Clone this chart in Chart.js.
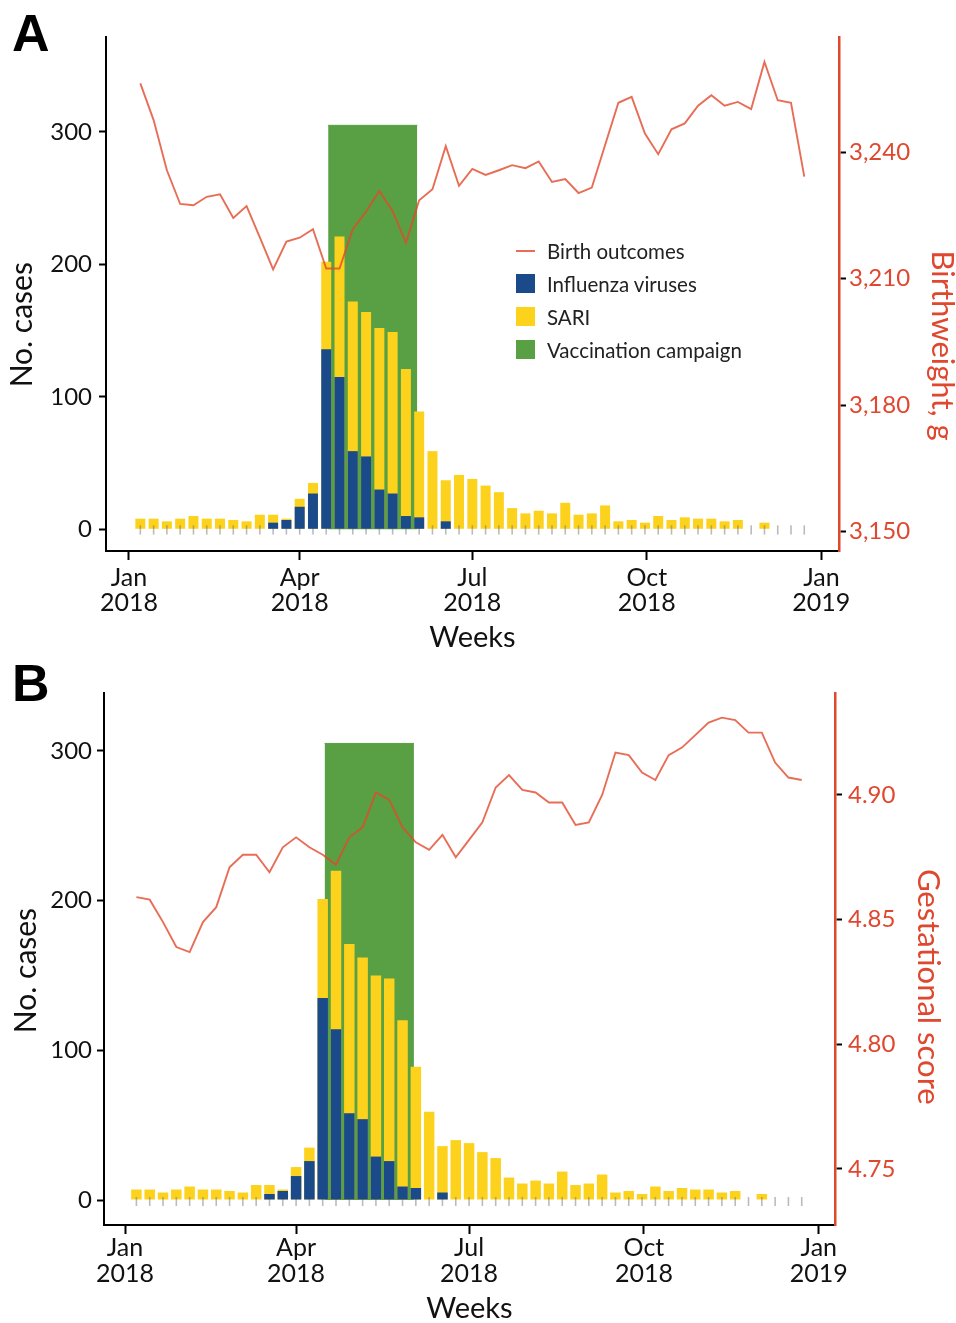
<!DOCTYPE html>
<html>
<head>
<meta charset="utf-8">
<script src="https://cdn.jsdelivr.net/npm/chart.js@4.4.1/dist/chart.umd.min.js"></script>
<style>
    body { margin: 0; background: #fff; }
    #pagina { position: relative; width: 956px; height: 1323px; overflow: hidden; }
    #grafico1 { position: absolute; left: 0; top: 0; }
    #grafico2 { position: absolute; left: 0; top: 660px; }
    .letra { position: absolute; left: 12px; font: bold 52px "Liberation Sans", Arial, sans-serif; line-height: 52px; color: #000; }
    #legenda { position: absolute; left: 516px; top: 234px; font: 20.5px Lato, sans-serif; color: #222; }
    #legenda .item { height: 33px; display: flex; align-items: center; }
    #legenda .icone { width: 19px; height: 19px; margin-right: 12px; }
</style>
</head>
<body>
<div id="pagina">
    <canvas id="grafico1" width="956" height="660"></canvas>
    <canvas id="grafico2" width="956" height="663"></canvas>
    <div class="letra" style="top:7px">A</div>
    <div class="letra" style="top:657px">B</div>
    <div id="legenda"></div>
</div>
<script>
// semanas epidemiologicas (inicio de cada semana)
const semanas = ['2018-01-07','2018-01-14','2018-01-21','2018-01-28','2018-02-04','2018-02-11','2018-02-18','2018-02-25',
    '2018-03-04','2018-03-11','2018-03-18','2018-03-25','2018-04-01','2018-04-08','2018-04-15','2018-04-22','2018-04-29',
    '2018-05-06','2018-05-13','2018-05-20','2018-05-27','2018-06-03','2018-06-10','2018-06-17','2018-06-24','2018-07-01',
    '2018-07-08','2018-07-15','2018-07-22','2018-07-29','2018-08-05','2018-08-12','2018-08-19','2018-08-26','2018-09-02',
    '2018-09-09','2018-09-16','2018-09-23','2018-09-30','2018-10-07','2018-10-14','2018-10-21','2018-10-28','2018-11-04',
    '2018-11-11','2018-11-18','2018-11-25','2018-12-02','2018-12-09','2018-12-16','2018-12-23'];

// painel A
const sariA = [8,8,6,8,10,8,8,7,6,11,11,8,23,35,202,221,172,164,152,149,121,89,59,37,41,38,33,28,16,12,14,12,20,11,12,18,6,7,5,10,7,9,8,8,6,7,0,5,0,0,0];
const gripeA = [0,0,0,0,0,0,0,0,0,0,5,7,17,27,136,115,59,55,30,27,10,9,0,6,0,0,0,0,0,0,0,0,0,0,0,0,0,0,0,0,0,0,0,0,0,0,0,0,0,0,0];
const pesoNascer = [3256.3,3247.6,3235.7,3227.7,3227.4,3229.4,3230.0,3224.4,3227.2,3219.8,3212.2,3218.8,3219.7,3221.7,3212.4,3212.4,
    3221.7,3225.9,3230.8,3226.0,3218.5,3228.6,3231.2,3241.4,3232.0,3236.0,3234.6,3235.7,3236.9,3236.2,3237.8,3232.9,3233.6,
    3230.3,3231.6,3241.7,3251.7,3253.1,3244.4,3239.5,3245.4,3246.8,3251.0,3253.5,3251.0,3251.9,3250.2,3261.4,3252.3,3251.7,3234.2];

// painel B
const sariB = [7,7,5,7,9,7,7,6,5,10,10,7,22,35,201,220,171,162,150,148,120,89,59,36,40,38,32,28,15,11,13,11,19,10,11,17,5,6,4,9,6,8,7,7,5,6,0,4,0,0,0];
const gripeB = [0,0,0,0,0,0,0,0,0,0,4,6,16,26,135,114,58,54,29,26,9,8,0,5,0,0,0,0,0,0,0,0,0,0,0,0,0,0,0,0,0,0,0,0,0,0,0,0,0,0,0];
const escoreGest = [4.859,4.858,4.849,4.839,4.837,4.849,4.855,4.871,4.876,4.876,4.869,4.879,4.883,4.879,4.876,4.872,4.883,4.887,
    4.901,4.898,4.887,4.881,4.878,4.884,4.875,4.882,4.889,4.903,4.908,4.902,4.901,4.897,4.897,4.888,4.889,4.900,4.917,4.916,
    4.909,4.906,4.916,4.919,4.924,4.929,4.931,4.930,4.925,4.925,4.913,4.907,4.906];

// campanha de vacinacao
const campanha = ['2018-04-16', '2018-06-02'];
const topoCampanha = 305;

// eixos
const datasTicks = ['2018-01-01', '2018-04-01', '2018-07-01', '2018-10-01', '2019-01-01'];
const rotulosTicks = [['Jan', '2018'], ['Apr', '2018'], ['Jul', '2018'], ['Oct', '2018'], ['Jan', '2019']];
const ticksCasos = [0, 100, 200, 300];
const ticksPeso = [3150, 3180, 3210, 3240];
const ticksGest = [4.75, 4.80, 4.85, 4.90];

const azul = '#1A4A8A';
const amarelo = '#FCD21C';
const verde = '#58A043';
const vermelho = '#E0472F';
const corLinha = 'rgba(226, 72, 44, 0.8)';

Chart.defaults.font.family = 'Lato';

function dia(data) {
    return (Date.parse(data) - Date.parse('2018-01-01')) / 86400000;
}

// desloca o titulo ao longo do eixo com espacos
function deslocar(texto, px, antes, tamanho) {
    let c = document.createElement('canvas').getContext('2d');
    c.font = tamanho + 'px Lato';
    let n = Math.round(px / c.measureText('\u00A0').width);
    let esp = '\u00A0'.repeat(n);
    return antes ? esp + texto : texto + esp;
}

function desenharPainel(idCanvas, p) {
    const context = document.getElementById(idCanvas).getContext('2d');
    const xs = semanas.map(dia);

    return new Chart(context, {
        data: {
            datasets: [
                {
                    type: 'line',
                    label: 'Birth outcomes',
                    data: xs.map((x, i) => ({x: x, y: p.linha[i]})),
                    yAxisID: 'yDir',
                    borderColor: corLinha,
                    backgroundColor: corLinha,
                    borderWidth: 1.9,
                    pointRadius: 0,
                    tension: 0,
                    order: 1,
                },
                {
                    type: 'bar',
                    label: 'Influenza viruses',
                    data: xs.map((x, i) => ({x: x, y: p.gripe[i]})),
                    backgroundColor: azul,
                    grouped: false,
                    inflateAmount: 0,
                    barThickness: p.barra,
                    order: 2,
                },
                {
                    // marcas cinzas de cada semana
                    type: 'bar',
                    label: '',
                    data: xs.map(x => ({x: x, y: p.marca})),
                    backgroundColor: 'rgba(105, 105, 105, 0.45)',
                    grouped: false,
                    inflateAmount: 0,
                    barThickness: 1.6,
                    order: 3,
                },
                {
                    type: 'bar',
                    label: 'SARI',
                    data: xs.map((x, i) => ({x: x, y: p.sari[i]})),
                    backgroundColor: amarelo,
                    grouped: false,
                    inflateAmount: 0,
                    barThickness: p.barra,
                    order: 4,
                },
                {
                    type: 'line',
                    label: 'Vaccination campaign',
                    data: campanha.map(d => ({x: dia(d), y: topoCampanha})),
                    borderColor: verde,
                    backgroundColor: verde,
                    borderWidth: 1,
                    pointRadius: 0,
                    fill: 'origin',
                    order: 5,
                },
            ],
        },
        options: {
            responsive: false,
            animation: false,
            layout: { padding: { top: p.topo, left: 0, right: 0, bottom: 0 } },
            plugins: { legend: { display: false }, tooltip: { enabled: false } },
            scales: {
                x: {
                    type: 'linear',
                    min: p.xMin,
                    max: p.xMax,
                    offset: false,
                    afterFit: s => { s.height = p.altX; },
                    afterBuildTicks: s => { s.ticks = datasTicks.map(d => ({value: dia(d)})); },
                    ticks: {
                        callback: (v, i) => rotulosTicks[i],
                        color: '#111',
                        font: { size: 25, lineHeight: p.alturaLinha },
                        padding: p.padX,
                        maxRotation: 0,
                        autoSkip: false,
                    },
                    grid: { offset: false, drawOnChartArea: false, tickLength: 9, tickWidth: 2, tickColor: '#000' },
                    border: { color: '#000', width: 2 },
                    title: {
                        display: true,
                        text: 'Weeks',
                        color: '#111',
                        font: { size: 29, lineHeight: 1 },
                        padding: { top: 0, bottom: p.padTituloX },
                    },
                },
                y: {
                    position: 'left',
                    min: p.yMin,
                    max: p.yMax,
                    afterFit: s => { s.width = p.largEsq; },
                    afterBuildTicks: s => { s.ticks = ticksCasos.map(v => ({value: v})); },
                    ticks: { color: '#111', font: { size: 24 }, padding: p.padEsq },
                    grid: { drawOnChartArea: false, tickLength: 7, tickWidth: 2, tickColor: '#000' },
                    border: { color: '#000', width: 2 },
                    title: {
                        display: true,
                        text: deslocar('No. cases', p.desvioEsq, false, 30),
                        color: '#111',
                        font: { size: 30, lineHeight: 1 },
                        padding: { top: p.padTituloEsq, bottom: 0 },
                    },
                },
                yDir: {
                    position: 'right',
                    min: p.dirMin,
                    max: p.dirMax,
                    afterFit: s => { s.width = p.largDir; },
                    afterBuildTicks: s => { s.ticks = p.ticksDir.map(v => ({value: v})); },
                    ticks: { color: vermelho, font: { size: 24 }, padding: p.padDir, callback: p.formato },
                    grid: { drawOnChartArea: false, tickLength: 7, tickWidth: 2, tickColor: '#000' },
                    border: { color: vermelho, width: 2.5 },
                    title: {
                        display: true,
                        text: deslocar(p.tituloDir, p.desvioDir, true, 31),
                        color: vermelho,
                        font: { size: 31, lineHeight: 1 },
                        padding: { top: p.padTituloDir, bottom: 0 },
                    },
                },
            },
        },
    });
}

let chartInstance = desenharPainel('grafico1', {
    sari: sariA, gripe: gripeA, linha: pesoNascer, barra: 10, marca: [-4, 3],
    topo: 37, largEsq: 106, largDir: 117, altX: 109,
    xMin: -12.1, xMax: 374.3, yMin: -16.4, yMax: 371.7, dirMin: 3145.4, dirMax: 3267.3,
    ticksDir: ticksPeso, formato: v => v.toLocaleString('en-US'),
    tituloDir: 'Birthweight, g',
    alturaLinha: 1.0, padX: 5, padTituloX: 8,
    padEsq: 7, padDir: 3, padTituloEsq: 7, padTituloDir: -1,
    desvioEsq: 62, desvioDir: 104,
});

let chartInstance2 = desenharPainel('grafico2', {
    sari: sariB, gripe: gripeB, linha: escoreGest, barra: 10.5, marca: [-4, 2],
    topo: 33, largEsq: 104, largDir: 121, altX: 98,
    xMin: -11.05, xMax: 373.5, yMin: -16.7, yMax: 338.7, dirMin: 4.7275, dirMax: 4.9409,
    ticksDir: ticksGest, formato: v => v.toFixed(2),
    tituloDir: 'Gestational score',
    alturaLinha: 1.04, padX: 1, padTituloX: 0,
    padEsq: 5, padDir: 6, padTituloEsq: 11, padTituloDir: 13,
    desvioEsq: 20, desvioDir: 52,
});

// legenda dentro do painel A
const ordemLegenda = ['Birth outcomes', 'Influenza viruses', 'SARI', 'Vaccination campaign'];
let legenda = document.getElementById('legenda');
ordemLegenda.forEach(function(nome) {
    let ds = chartInstance.data.datasets.find(d => d.label === nome);
    let item = document.createElement('div');
    item.className = 'item';
    let icone = document.createElement('span');
    icone.className = 'icone';
    if (ds.type === 'line' && !ds.fill) {
        icone.style.height = '2px';
        icone.style.background = ds.borderColor;
    } else {
        icone.style.background = ds.backgroundColor;
    }
    item.appendChild(icone);
    item.appendChild(document.createTextNode(nome));
    legenda.appendChild(item);
});
</script>
</body>
</html>
